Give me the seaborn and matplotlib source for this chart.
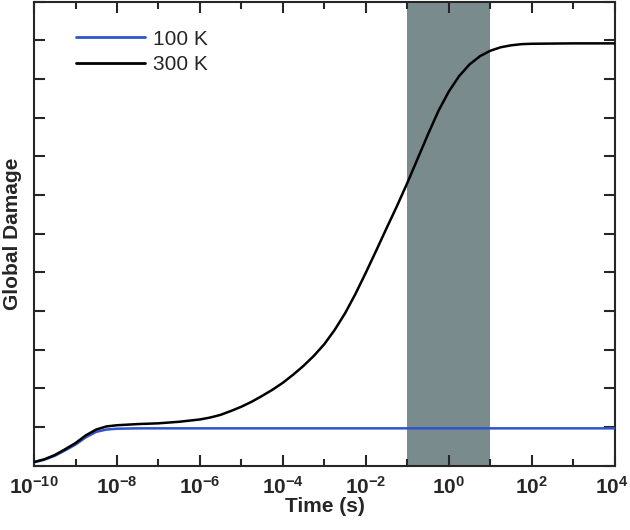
import numpy as np
import pandas as pd
import matplotlib
matplotlib.use("Agg")
import matplotlib.pyplot as plt
import matplotlib.ticker as mticker
import matplotlib.transforms as mtransforms
import seaborn as sns

# 数据（从图中读取，log10 时间）
log_t_300 = [-10, -9.75, -9.5, -9.25, -9, -8.75, -8.5, -8.25, -8, -7.5, -7, -6.5, -6,
             -5.75, -5.5, -5.25, -5, -4.75, -4.5, -4.25, -4, -3.75, -3.5, -3.25, -3,
             -2.75, -2.5, -2.25, -2, -1.75, -1.5, -1.25, -1, -0.75, -0.5, -0.25, 0,
             0.25, 0.5, 0.75, 1, 1.25, 1.5, 1.75, 2, 3, 4]
damage_300 = [0.010, 0.017, 0.028, 0.043, 0.059, 0.079, 0.094, 0.102, 0.105, 0.108,
              0.110, 0.114, 0.120, 0.125, 0.132, 0.142, 0.153, 0.166, 0.181, 0.197,
              0.215, 0.236, 0.259, 0.285, 0.315, 0.352, 0.395, 0.445, 0.500, 0.557,
              0.615, 0.672, 0.732, 0.795, 0.858, 0.918, 0.968, 1.008, 1.038, 1.059,
              1.073, 1.082, 1.087, 1.090, 1.091, 1.092, 1.092]

log_t_100 = [-10, -9.75, -9.5, -9.25, -9, -8.75, -8.5, -8.25, -8, -7.5, -7, -6, -4,
             -2, 0, 2, 4]
damage_100 = [0.009, 0.016, 0.026, 0.040, 0.055, 0.074, 0.088, 0.094, 0.096, 0.097,
              0.097, 0.097, 0.097, 0.097, 0.097, 0.097, 0.097]

shade_range = (1e-1, 1e1)

df = pd.concat([
    pd.DataFrame({"t": 10.0 ** np.array(log_t_100), "d": damage_100, "T": "100 K"}),
    pd.DataFrame({"t": 10.0 ** np.array(log_t_300), "d": damage_300, "T": "300 K"}),
])

sns.set_style("ticks")
plt.rcParams["font.family"] = ["Liberation Sans", "DejaVu Sans"]
plt.rcParams["mathtext.fontset"] = "custom"
plt.rcParams["mathtext.rm"] = "Liberation Sans:bold"
plt.rcParams["mathtext.it"] = "Liberation Sans:bold"
plt.rcParams["mathtext.bf"] = "Liberation Sans:bold"

fig = plt.figure(figsize=(6.3, 5.3), dpi=100)
ax = fig.add_axes([0.054, 0.121, 0.922, 0.876])

ax.axvspan(*shade_range, color="#7a8b8e", lw=0, zorder=0)
sns.lineplot(data=df, x="t", y="d", hue="T", palette={"100 K": "#2f55c8", "300 K": "black"},
             linewidth=1.8, ax=ax, zorder=3)

ax.set_xscale("log")
ax.set_xlim(1e-10, 1e4)
ax.set_ylim(0, 1.2)

ax.xaxis.set_major_locator(mticker.FixedLocator(10.0 ** np.arange(-10, 5, 2)))
ax.xaxis.set_minor_locator(mticker.FixedLocator(10.0 ** np.arange(-9, 4, 2)))
ax.xaxis.set_major_formatter(mticker.FuncFormatter(
    lambda v, p: r"$\mathbf{10^{%d}}$" % round(np.log10(v))))
ax.xaxis.set_minor_formatter(mticker.NullFormatter())
ax.yaxis.set_major_locator(mticker.MultipleLocator(0.1))
ax.yaxis.set_major_formatter(mticker.NullFormatter())

ax.tick_params(which="both", direction="in", top=True, right=True, width=1.5)
ax.tick_params(which="major", length=8, labelsize=15, pad=7)
ax.tick_params(which="minor", length=5)
for s in ax.spines.values():
    s.set_linewidth(1.5)

# 最右边的标签稍微左移，避免被裁掉
fig.canvas.draw()
last = ax.get_xticklabels()[-1]
last.set_transform(last.get_transform() +
                   mtransforms.ScaledTranslation(-3 / 100, 0, fig.dpi_scale_trans))

ax.set_xlabel("Time (s)", fontsize=15, fontweight="bold", labelpad=0)
ax.set_ylabel("Global Damage", fontsize=15, fontweight="bold", labelpad=2)

leg = ax.legend(loc="upper left", frameon=False, fontsize=15, handlelength=3.3,
                bbox_to_anchor=(0.04, 0.98), handletextpad=0.4, labelspacing=0.3)
for line in leg.get_lines():
    line.set_linewidth(2)

fig.savefig("out.png", dpi=100)
